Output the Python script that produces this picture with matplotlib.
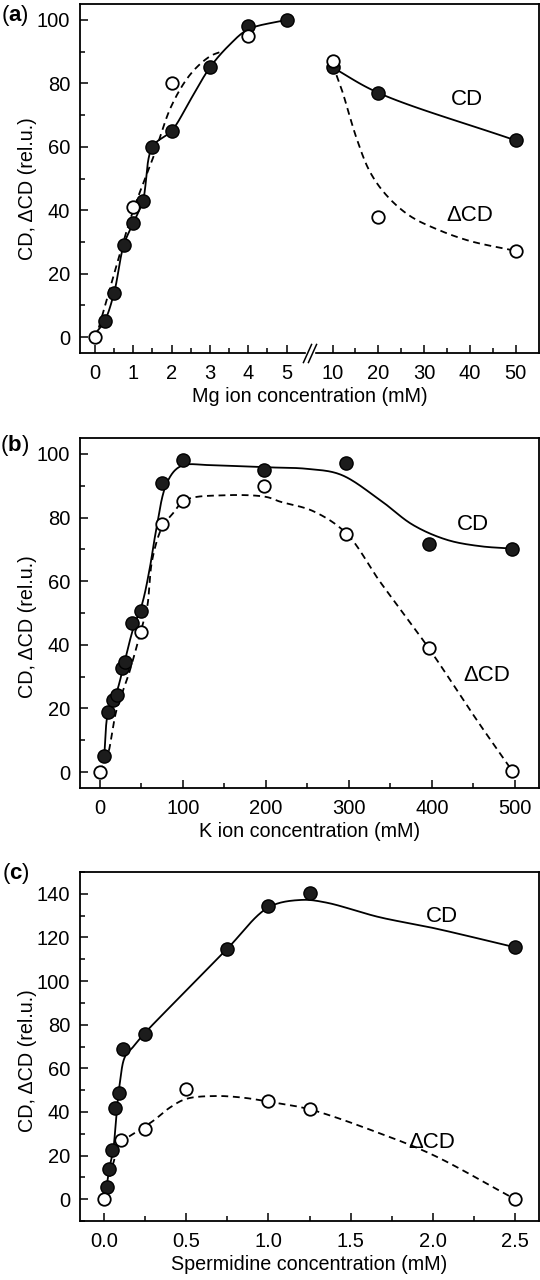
import numpy as np
import matplotlib
matplotlib.use("Agg")
import matplotlib.pyplot as plt
from matplotlib.ticker import FixedLocator, MultipleLocator, FixedFormatter
import matplotlib.transforms as mtransforms

plt.rcParams['font.family'] = ['Liberation Sans', 'DejaVu Sans']
plt.rcParams['mathtext.fontset'] = 'custom'
plt.rcParams['mathtext.rm'] = 'Liberation Sans'
plt.rcParams['mathtext.bf'] = 'Liberation Sans:bold'

# ---------------- data: panel (a) Mg ----------------
mg_cd_x = [0.25, 0.5, 0.75, 1.0, 1.25, 1.5, 2.0, 3.0, 4.0, 5.0, 10, 20, 50]
mg_cd_y = [5, 14, 29, 36, 43, 60, 65, 85, 98, 100, 85, 77, 62]
mg_dcd_x = [0, 1, 2, 4, 10, 20, 50]
mg_dcd_y = [0, 41, 80, 95, 87, 38, 27]
# fitted curves
mg_fit_cd_lo_x = [0, 0.25, 0.5, 0.75, 1.0, 1.25, 1.5, 2.0, 2.5, 3.0, 3.5, 4.0, 5.0]
mg_fit_cd_lo_y = [1, 5, 14, 29, 36, 43, 60, 65, 75, 85, 92, 97, 100]
mg_fit_cd_hi_x = [10, 20, 50]
mg_fit_cd_hi_y = [85, 77, 62]
mg_fit_dcd_lo_x = [0.1, 0.5, 1.0, 1.5, 2.0, 2.5, 3.0, 3.3]
mg_fit_dcd_lo_y = [3, 20, 40, 56, 73, 83, 88.5, 90]
mg_fit_dcd_hi_x = [10, 12, 15.3, 18.2, 21.9, 26.9, 32.8, 40, 50]
mg_fit_dcd_hi_y = [86, 78, 62.4, 52, 44.5, 38.2, 34, 30.3, 27.2]
mg_ticks = [0, 1, 2, 3, 4, 5, 10, 20, 30, 40, 50]
mg_minor = [0.5, 1.5, 2.5, 3.5, 4.5, 15, 25, 35, 45]

# ---------------- data: panel (b) K ----------------
k_cd_x = [5, 10, 16, 20, 26, 30, 39, 50, 75, 100, 198, 297, 397, 497]
k_cd_y = [5, 19, 22.6, 24.2, 32.6, 34.6, 47, 50.6, 91, 98, 95, 97.2, 71.7, 70.2]
k_dcd_x = [0, 50, 75, 100, 198, 297, 396, 497]
k_dcd_y = [0, 44, 78, 85.3, 90, 74.8, 38.9, 0.3]
k_fit_cd_x = [5, 10, 20, 30, 40, 51, 60, 67, 79, 91, 103, 130, 200, 250, 290,
              337, 377, 418, 458, 500]
k_fit_cd_y = [4.5, 19, 25, 35, 45, 53, 64, 75, 89.8, 95, 96.6, 96.5, 95.8, 95.3,
              93.5, 85.6, 77.7, 73, 71, 70.2]
k_fit_dcd_x = [0, 10, 15, 20, 35, 50, 57, 63, 75, 87, 103, 150, 200, 217, 257, 297,
               337, 396, 455, 497]
k_fit_dcd_y = [0, 6, 13, 19.5, 31, 45, 52, 66.7, 77, 81, 85.5, 87, 86.5, 85, 82,
               75, 60, 39, 16, 0.3]
k_ticks = [0, 100, 200, 300, 400, 500]

# ---------------- data: panel (c) spermidine ----------------
sp_cd_x = [0.015, 0.03, 0.045, 0.065, 0.089, 0.115, 0.25, 0.75, 1.0, 1.25, 2.5]
sp_cd_y = [5.8, 13.7, 22.5, 41.6, 48.8, 68.8, 75.8, 114.8, 134.4, 140.3, 115.6]
sp_dcd_x = [0, 0.1, 0.25, 0.5, 1.0, 1.25, 2.5]
sp_dcd_y = [0, 27, 32, 50.3, 45, 41.2, 0]
sp_fit_cd_x = [0.015, 0.03, 0.055, 0.075, 0.095, 0.126, 0.176, 0.243, 0.5, 0.749,
               1.0, 1.2, 1.35, 1.674, 1.998, 2.494]
sp_fit_cd_y = [5.8, 13.7, 22.5, 39.3, 53, 65.2, 69.8, 75.8, 95.7, 114.8, 133.8,
               137.2, 136, 129.3, 124.4, 115.6]
sp_fit_dcd_x = [0, 0.05, 0.1, 0.2, 0.3, 0.4, 0.5, 0.68, 0.85, 1.0, 1.25, 1.677,
                2.0, 2.5]
sp_fit_dcd_y = [0, 15, 25.5, 31, 36, 42, 46, 47.3, 46.5, 44.7, 41.2, 30.2, 20.3, 0]
sp_ticks = [0.0, 0.5, 1.0, 1.5, 2.0, 2.5]

# ---------------- figure ----------------
W, H = 540, 1280
fig = plt.figure(figsize=(W / 100, H / 100), dpi=100)

def px_axes(x0, y0, x1, y1):
    return fig.add_axes([x0 / W, 1 - y1 / H, (x1 - x0) / W, (y1 - y0) / H])

axA = px_axes(80, 4, 539, 353)
axB = px_axes(80, 438, 539, 788)
axC = px_axes(80, 872, 539, 1221)

FS = 14.5
LFS = 14.2
LW = 1.3
DASH = (0, (3.8, 2.6))

def fwd(x):
    x = np.asarray(x, float)
    return np.where(x <= 5, x, np.where(x <= 10, 5 + (x - 5) * 0.24, 6.2 + (x - 10) * 0.1194))

def inv(t):
    t = np.asarray(t, float)
    return np.where(t <= 5, t, np.where(t <= 6.2, 5 + (t - 5) / 0.24, 10 + (t - 6.2) / 0.1194))

axA.set_xscale('function', functions=(fwd, inv))

def style(ax):
    for s in ax.spines.values():
        s.set_linewidth(1.3)
    ax.tick_params(which='both', direction='in', top=False, right=False,
                   labelsize=FS, width=1.1)
    ax.tick_params(which='major', length=6, pad=7)
    ax.tick_params(which='minor', length=3.5)
    ax.tick_params(axis='x', which='major', pad=8)

for ax in (axA, axB, axC):
    style(ax)

axA.set_xlim(-0.39, 55.1)
axA.set_ylim(-5, 105)
axB.set_xlim(-24, 529)
axB.set_ylim(-5, 105)
axC.set_xlim(-0.147, 2.646)
axC.set_ylim(-10, 150)

axA.xaxis.set_major_locator(FixedLocator(mg_ticks))
axA.xaxis.set_major_formatter(FixedFormatter([str(v) for v in mg_ticks]))
axA.xaxis.set_minor_locator(FixedLocator(mg_minor))
axA.yaxis.set_major_locator(MultipleLocator(20))
axA.yaxis.set_minor_locator(MultipleLocator(10))

axB.xaxis.set_major_locator(FixedLocator(k_ticks))
axB.xaxis.set_minor_locator(MultipleLocator(50))
axB.yaxis.set_major_locator(MultipleLocator(20))
axB.yaxis.set_minor_locator(MultipleLocator(10))

axC.xaxis.set_major_locator(FixedLocator(sp_ticks))
axC.xaxis.set_major_formatter(FixedFormatter([f"{v:.1f}" for v in sp_ticks]))
axC.xaxis.set_minor_locator(MultipleLocator(0.25))
axC.yaxis.set_major_locator(MultipleLocator(20))
axC.yaxis.set_minor_locator(MultipleLocator(10))


def smooth(ax, xs, ys, n=24):
    pts = ax.transData.transform(np.column_stack([xs, ys]))
    if len(pts) < 3:
        return ax.transData.inverted().transform(pts).T
    P = np.vstack([2 * pts[0] - pts[1], pts, 2 * pts[-1] - pts[-2]])
    out = []
    for i in range(1, len(P) - 2):
        p0, p1, p2, p3 = P[i - 1], P[i], P[i + 1], P[i + 2]
        t0 = 0.0
        t1 = t0 + max(np.linalg.norm(p1 - p0), 1e-6) ** 0.5
        t2 = t1 + max(np.linalg.norm(p2 - p1), 1e-6) ** 0.5
        t3 = t2 + max(np.linalg.norm(p3 - p2), 1e-6) ** 0.5
        t = np.linspace(t1, t2, n, endpoint=False)[:, None]
        A1 = (t1 - t) / (t1 - t0) * p0 + (t - t0) / (t1 - t0) * p1
        A2 = (t2 - t) / (t2 - t1) * p1 + (t - t1) / (t2 - t1) * p2
        A3 = (t3 - t) / (t3 - t2) * p2 + (t - t2) / (t3 - t2) * p3
        B1 = (t2 - t) / (t2 - t0) * A1 + (t - t0) / (t2 - t0) * A2
        B2 = (t3 - t) / (t3 - t1) * A2 + (t - t1) / (t3 - t1) * A3
        C = (t2 - t) / (t2 - t1) * B1 + (t - t1) / (t2 - t1) * B2
        out.append(C)
    out.append(pts[-1][None, :])
    out = np.vstack(out)
    return ax.transData.inverted().transform(out).T


def curve(ax, xs, ys, dashed=False):
    sx, sy = smooth(ax, xs, ys)
    ax.plot(sx, sy, color='black', lw=LW, ls=DASH if dashed else '-',
            zorder=2, solid_capstyle='butt', dash_capstyle='butt')


def points(ax, x, y, filled):
    if filled:
        ax.plot(x, y, 'o', ms=9.5, mfc='#1c1c1c', mec='black', mew=1.0,
                ls='none', zorder=4)
    else:
        ax.plot(x, y, 'o', ms=9, mfc='white', mec='black', mew=1.3,
                ls='none', zorder=5)

# panel a
curve(axA, mg_fit_cd_lo_x, mg_fit_cd_lo_y)
curve(axA, mg_fit_cd_hi_x, mg_fit_cd_hi_y)
curve(axA, mg_fit_dcd_lo_x, mg_fit_dcd_lo_y, dashed=True)
curve(axA, mg_fit_dcd_hi_x, mg_fit_dcd_hi_y, dashed=True)
points(axA, mg_cd_x, mg_cd_y, True)
points(axA, mg_dcd_x, mg_dcd_y, False)
# panel b
curve(axB, k_fit_cd_x, k_fit_cd_y)
curve(axB, k_fit_dcd_x, k_fit_dcd_y, dashed=True)
points(axB, k_cd_x, k_cd_y, True)
points(axB, k_dcd_x, k_dcd_y, False)
# panel c
curve(axC, sp_fit_cd_x, sp_fit_cd_y)
curve(axC, sp_fit_dcd_x, sp_fit_dcd_y, dashed=True)
points(axC, sp_cd_x, sp_cd_y, True)
points(axC, sp_dcd_x, sp_dcd_y, False)

# curve labels
CFS = 16
axA.text(39.4, 75, 'CD', ha='center', va='center', fontsize=CFS)
axA.text(39.9, 38.2, 'ΔCD', ha='center', va='center', fontsize=CFS)
axB.text(449.6, 77.7, 'CD', ha='center', va='center', fontsize=CFS)
axB.text(466, 30.5, 'ΔCD', ha='center', va='center', fontsize=CFS)
axC.text(2.056, 129.6, 'CD', ha='center', va='center', fontsize=CFS)
axC.text(1.996, 26.2, 'ΔCD', ha='center', va='center', fontsize=CFS)

# axis break on panel (a)
BREAK_AT = 7.5
btrans = mtransforms.blended_transform_factory(axA.transData, axA.transAxes)
axA.plot([BREAK_AT], [0], marker='s', ms=6, mfc='white', mec='white',
         transform=btrans, clip_on=False, zorder=6)
for dx in (-2.6, 2.6):
    tr = mtransforms.offset_copy(btrans, fig=fig, x=dx, y=0, units='dots')
    axA.plot([BREAK_AT], [0], marker=[(-0.45, -1.0), (0.45, 1.0)], ms=14,
             mec='black', mew=1.1, transform=tr, clip_on=False, zorder=7)

# axis labels
axA.set_xlabel('Mg ion concentration (mM)', fontsize=LFS, labelpad=3)
axB.set_xlabel('K ion concentration (mM)', fontsize=LFS, labelpad=3)
axC.set_xlabel('Spermidine concentration (mM)', fontsize=LFS, labelpad=3)
for ax, yc in ((axA, 0.47), (axB, 0.46), (axC, 0.46)):
    ax.set_ylabel('CD, ΔCD (rel.u.)', fontsize=LFS)
    ax.yaxis.set_label_coords(-0.094, yc)

# panel letters: regular parentheses, bold letter
for lab, (x, y) in (('a', (15, 15)), ('b', (15, 446)), ('c', (16, 873))):
    fig.text(x / W, 1 - y / H, '($\\mathbf{' + lab + '}$)', ha='center',
             va='center', fontsize=16)

fig.savefig('out.png', dpi=100)
